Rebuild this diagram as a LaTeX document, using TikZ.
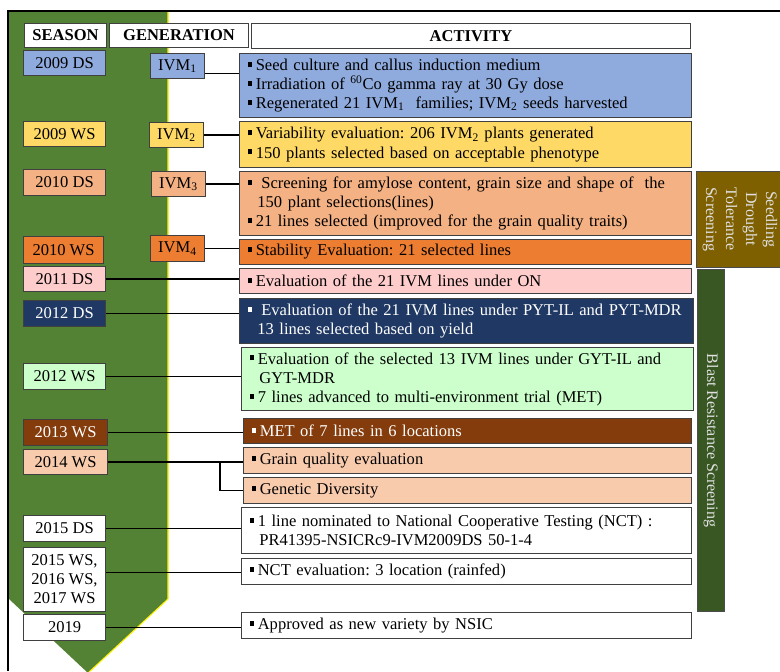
\documentclass[tikz,border=0pt]{standalone}
\usepackage{fontspec}
\setmainfont{Liberation Serif}
\usepackage{tikz}
\usetikzlibrary{calc}

\definecolor{arrowgreen}{HTML}{548235}
\definecolor{ds09}{HTML}{8FAADC}
\definecolor{ws09}{HTML}{FFD966}
\definecolor{ds10}{HTML}{F4B183}
\definecolor{ws10}{HTML}{ED7D31}
\definecolor{ds11}{HTML}{FFCCCC}
\definecolor{ds12}{HTML}{203864}
\definecolor{ws12}{HTML}{CCFFCC}
\definecolor{ws13}{HTML}{843C0C}
\definecolor{ws14}{HTML}{F8CBAD}
\definecolor{drought}{HTML}{7F6000}
\definecolor{blast}{HTML}{385723}

\newcommand{\sq}{\rule[0.22em]{0.3em}{0.3em}\hspace{0.2em}}
\frenchspacing

\tikzset{
	box/.style={draw=black!75, line width=0.8pt, anchor=north west, inner sep=0pt, align=center},
	hdr/.style={box, fill=white, minimum height=18pt, font=\fontsize{12.4}{14}\selectfont\bfseries},
	sbox/.style={box, minimum width=61.5pt, minimum height=19pt},
	gbox/.style={box, minimum width=40.5pt, minimum height=18.75pt},
	abox/.style={box, align=left, inner xsep=6pt, text width=#1},
	side/.style={draw=black!70, line width=0.8pt, anchor=north west, inner sep=0pt},
	vtext/.style={rotate=-90, align=center, text=white!88!black, font=\fontsize{12}{15}\selectfont},
	conn/.style={line width=1.3pt},
}

\begin{document}
\begin{tikzpicture}[x=0.75pt, y=-0.75pt, font=\fontsize{12.4}{14.3}\selectfont]
	\useasboundingbox (0,0) rectangle (780,671);
	
	% timeline arrow
	\fill[arrowgreen] (9,12) -- (168,12) -- (168,599) -- (88,673) -- (9,599) -- cycle;
	\draw[yellow, line width=0.8pt] (168,12) -- (168,599) -- (88,673);
	
	% frame
	\draw[line width=1.6pt] (780,11) -- (8,11) -- (8,671);
	
	% headers
	\node[hdr, minimum width=61.5pt] (hseason) at (24,23) {SEASON};
	\node[hdr, minimum width=104.25pt] (hgen) at (109,23) {GENERATION};
	\node[hdr, minimum width=329.25pt, minimum height=18.75pt] (hact) at (251,23) {ACTIVITY};
	
	% seasons
	\node[sbox, fill=ds09, minimum height=18.75pt] (s1) at (23,50) {2009 DS};
	\node[sbox, fill=ws09, minimum height=18.75pt] (s2) at (23,121) {2009 WS};
	\node[sbox, fill=ds10, minimum height=19.5pt] (s3) at (23,169) {2010 DS};
	\node[sbox, fill=ws10, minimum width=60pt, minimum height=20.25pt] (s4) at (23,236) {2010 WS};
	\node[sbox, fill=ds11, minimum height=18.75pt] (s5) at (23,266) {2011 DS};
	\node[sbox, fill=ds12, text=white, minimum height=19.5pt] (s6) at (23,300) {2012 DS};
	\node[sbox, fill=ws12, minimum height=19.5pt] (s7) at (23,363) {2012 WS};
	\node[sbox, fill=ws13, text=white, minimum width=63pt, minimum height=19.5pt] (s8) at (23,419) {2013 WS};
	\node[sbox, fill=ws14, minimum width=63pt, minimum height=18.75pt] (s9) at (23,449) {2014 WS};
	\node[sbox, fill=white, minimum height=19.5pt] (s10) at (23,515) {2015 DS};
	\node[sbox, fill=white, minimum height=48pt] (s11) at (23,547) {2015 WS,\\2016 WS,\\2017 WS};
	\node[sbox, fill=white, minimum height=19.5pt] (s12) at (23,614) {2019};
	
	% generations
	\node[gbox, fill=ds09] (g1) at (150,53) {IVM\textsubscript{1}};
	\node[gbox, fill=ws09] (g2) at (149,122) {IVM\textsubscript{2}};
	\node[gbox, fill=ds10] (g3) at (151,171) {IVM\textsubscript{3}};
	\node[gbox, fill=ws10, minimum height=19.5pt] (g4) at (150,235) {IVM\textsubscript{4}};
	
	% activities
	\node[abox=327pt, fill=ds09, minimum height=48pt] (a1) at (239,53) {\sq Seed culture and callus induction medium\\
		\sq Irradiation of \textsuperscript{60}Co gamma ray at 30 Gy dose\\
		\sq Regenerated 21 IVM\textsubscript{1}\ \ families; IVM\textsubscript{2}\ seeds harvested};
	\node[abox=327pt, fill=ws09, minimum height=34.5pt] (a2) at (239,121) {\sq Variability evaluation: 206 IVM\textsubscript{2}\ plants generated\\
		\sq 150 plants selected based on acceptable phenotype};
	\node[abox=327pt, fill=ds10, minimum height=48pt] (a3) at (239,171) {\sq\ Screening for amylose content, grain size and shape of\ \ the\\
		\hspace*{0.6em}150 plant selections(lines)\\
		\sq 21 lines selected (improved for the grain quality traits)};
	\node[abox=327pt, fill=ws10, minimum height=18.75pt] (a4) at (239,239) {\sq Stability Evaluation: 21 selected lines};
	\node[abox=327pt, fill=ds11, minimum height=18.75pt] (a5) at (239,268) {\sq Evaluation of the 21 IVM lines under ON};
	\node[abox=328.5pt, fill=ds12, text=white, minimum height=33.75pt] (a6) at (239,298) {\sq\ Evaluation of the 21 IVM lines under PYT-IL and PYT-MDR\\
		\hspace*{0.6em}13 lines selected based on yield};
	\node[abox=327pt, fill=ws12, minimum height=47.25pt] (a7) at (241,347) {\sq Evaluation of the selected 13 IVM lines under GYT-IL and\\
		\hspace*{0.6em}GYT-MDR\\
		\sq 7 lines advanced to multi-environment trial (MET)};
	\node[abox=324pt, fill=ws13, text=white, minimum height=18.75pt] (a8) at (243,418) {\sq MET of 7 lines in 6 locations};
	\node[abox=324pt, fill=ws14, minimum height=19.5pt] (a9) at (243,447) {\sq Grain quality evaluation};
	\node[abox=324pt, fill=ws14, minimum height=19.5pt] (a10) at (243,477) {\sq Genetic Diversity};
	\node[abox=325.5pt, fill=white, minimum height=34.5pt] (a11) at (241,507) {\sq 1 line nominated to National Cooperative Testing (NCT) :\\
		\hspace*{0.6em}PR41395-NSICRc9-IVM2009DS 50-1-4};
	\node[abox=325.5pt, fill=white, minimum height=19.5pt] (a12) at (241,558) {\sq NCT evaluation: 3 location (rainfed)};
	\node[abox=325.5pt, fill=white, minimum height=19.5pt] (a13) at (241,612) {\sq Approved as new variety by NSIC};
	
	% screening bars
	\node[side, fill=drought, minimum width=67.5pt, minimum height=72pt] (sdt) at (696,171) {};
	\node[vtext] (sdtlabel) at (740,219) {Seedling\\Drought\\Tolerance\\Screening};
	\node[side, fill=blast, minimum width=20.25pt, minimum height=256.5pt] (brs) at (697,269) {};
	\node[vtext] (brslabel) at (brs.center) {Blast Resistance Screening};
	
	% connectors
	\coordinate (c1) at ($(g1.east)+(0,7.5)$);
	\coordinate (c2) at ($(s11.east)+(0,-7)$);
	\coordinate (br) at (220,0);
	\draw[conn] (c1) -- (c1 -| a1.west);
	\draw[conn] (g2.east) -- (g2.east -| a2.west);
	\draw[conn] (g3.east) -- (g3.east -| a3.west);
	\draw[conn] (g4.east) -- (g4.east -| a4.west);
	\draw[conn] (s5.east) -- (s5.east -| a5.west);
	\draw[conn] (s6.east) -- (s6.east -| a6.west);
	\draw[conn] (s7.east) -- (s7.east -| a7.west);
	\draw[conn] (s8.east) -- (s8.east -| a8.west);
	\draw[conn] (s9.east) -- (s9.east -| a9.west);
	\draw[conn] (s9.east -| br) |- (a10.west);
	\draw[conn] (s10.east) -- (s10.east -| a11.west);
	\draw[conn] (c2) -- (c2 -| a12.west);
	\draw[conn] (s12.east) -- (s12.east -| a13.west);
\end{tikzpicture}
\end{document}
